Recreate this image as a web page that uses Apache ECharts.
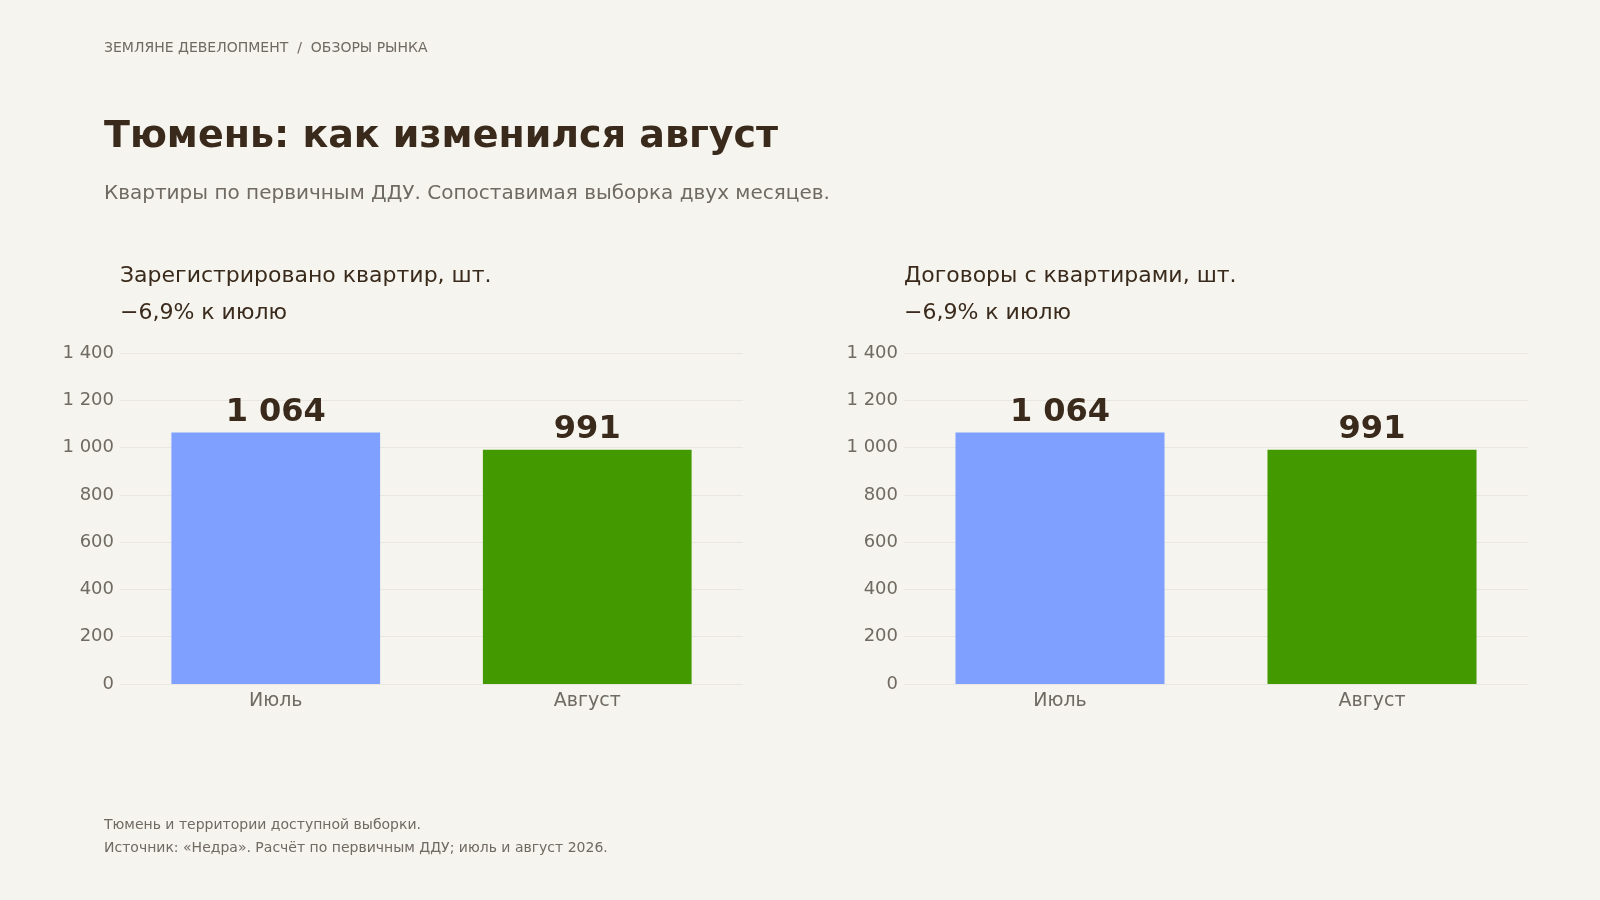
<!DOCTYPE html>
<html>
<head>
<meta charset="utf-8">
<script src="https://cdn.jsdelivr.net/npm/echarts@6/dist/echarts.min.js"></script>
<style>
  html, body { margin: 0; padding: 0; background: #f5f4ee; }
  #chart { width: 1600px; height: 900px; }
</style>
</head>
<body>
<div id="chart"></div>
<script>
var months = ['Июль', 'Август'];
var registered = [1064, 991];
var contracts = [1064, 991];
var barColors = ['#80a0ff', '#429900'];
var yMax = 1400;
var yStep = 200;

var chart = echarts.init(document.getElementById('chart'));
var font = 'DejaVu Sans';
var dark = '#3a2a1c';
var grey = '#6f6a62';

function fmt(v) {
    return String(v).replace(/\B(?=(\d{3})+(?!\d))/g, ' ');
}

function makeSeries(values, idx) {
    return {
        type: 'bar',
        xAxisIndex: idx,
        yAxisIndex: idx,
        barWidth: '67%',
        data: values.map(function(v, i) {
            return {value: v, itemStyle: {color: barColors[i]}};
        }),
        label: {
            show: true,
            position: 'top',
            distance: 4,
            formatter: function(p) { return fmt(p.value); },
            fontFamily: font,
            fontSize: 32,
            fontWeight: 'bold',
            color: dark
        }
    };
}

function xAxis(idx) {
    return {
        type: 'category',
        gridIndex: idx,
        data: months,
        axisLine: {show: false},
        axisTick: {show: false},
        axisLabel: {fontFamily: font, fontSize: 19, color: grey, margin: 8}
    };
}

function yAxis(idx) {
    return {
        type: 'value',
        gridIndex: idx,
        min: 0,
        max: yMax,
        interval: yStep,
        axisLabel: {fontFamily: font, fontSize: 18, color: grey, margin: 6, formatter: fmt},
        splitLine: {lineStyle: {color: '#e9e7df', width: 1}}
    };
}

function txt(x, y, s, size, color, weight) {
    return {
        type: 'text', left: x, top: y,
        style: {text: s, fontFamily: font, fontSize: size, fill: color, fontWeight: weight || 'normal'}
    };
}

chart.setOption({
    backgroundColor: '#f5f4ee',
    animation: false,
    grid: [
        {left: 120, width: 623, top: 353, height: 331},
        {left: 904, width: 624, top: 353, height: 331}
    ],
    xAxis: [xAxis(0), xAxis(1)],
    yAxis: [yAxis(0), yAxis(1)],
    series: [makeSeries(registered, 0), makeSeries(contracts, 1)],
    graphic: [
        txt(104, 41, 'ЗЕМЛЯНЕ ДЕВЕЛОПМЕНТ  /  ОБЗОРЫ РЫНКА', 14, grey),
        txt(104, 118, 'Тюмень: как изменился август', 38, dark, 'bold'),
        txt(104, 184, 'Квартиры по первичным ДДУ. Сопоставимая выборка двух месяцев.', 20, grey),
        txt(120, 265, 'Зарегистрировано квартир, шт.', 22, dark),
        txt(120, 302, '−6,9% к июлю', 22, dark),
        txt(904, 265, 'Договоры с квартирами, шт.', 22, dark),
        txt(904, 302, '−6,9% к июлю', 22, dark),
        txt(104, 818, 'Тюмень и территории доступной выборки.', 14, grey),
        txt(104, 841, 'Источник: «Недра». Расчёт по первичным ДДУ; июль и август 2026.', 14, grey)
    ]
});
</script>
</body>
</html>
